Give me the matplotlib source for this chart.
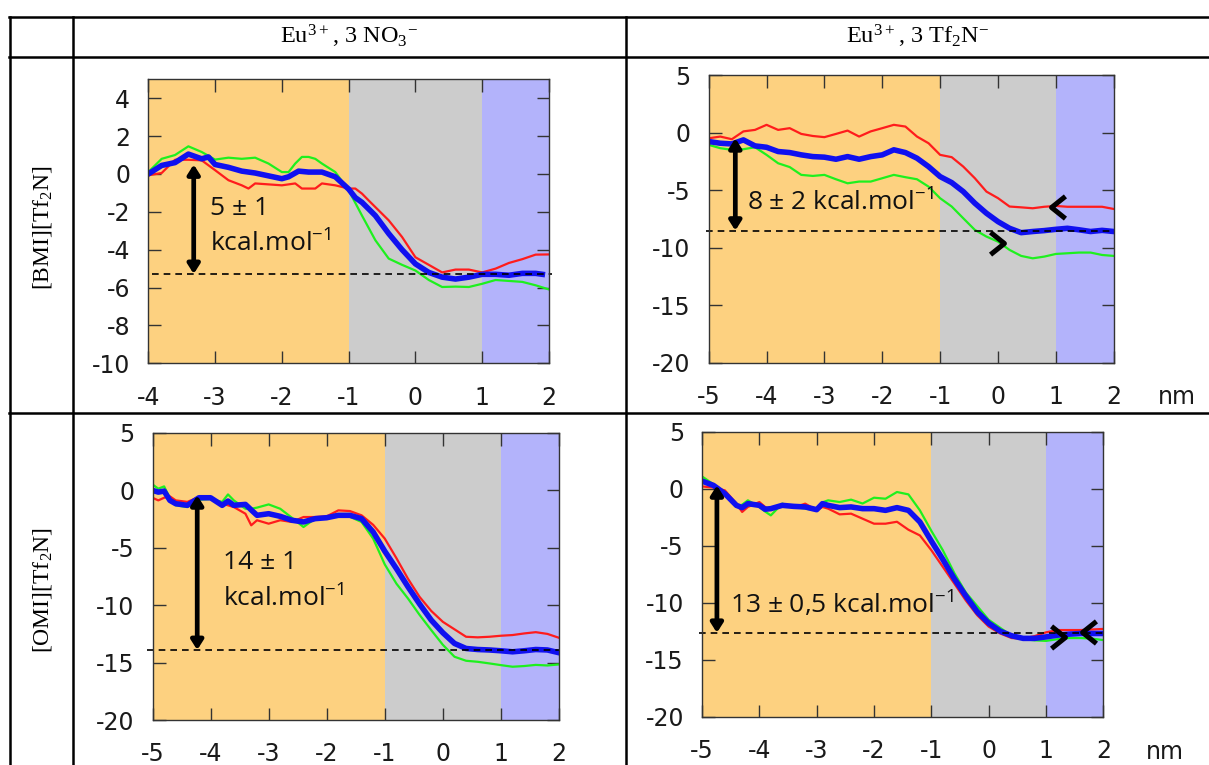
import matplotlib
matplotlib.use("Agg")
import matplotlib.pyplot as plt
from matplotlib.lines import Line2D

# ---- data (free energy, kcal/mol vs z, nm) ----
# [BMI][Tf2N], Eu3+ 3 NO3-
bmi_no3_red_x = [-4.0, -3.8, -3.6, -3.4, -3.2, -3.0, -2.8, -2.6, -2.5, -2.4, -2.2, -2.0, -1.8, -1.7, -1.5,
                 -1.4, -1.2, -1.0, -0.9, -0.8, -0.7, -0.6, -0.4, -0.2, 0.0, 0.2, 0.4, 0.6, 0.8, 1.0,
                 1.2, 1.4, 1.6, 1.8, 2.0]
bmi_no3_red = [-0.07, 0.05, 0.75, 0.75, 0.72, 0.2, -0.33, -0.6, -0.77, -0.5, -0.55, -0.6, -0.5, -0.77, -0.77,
               -0.5, -0.6, -0.77, -0.77, -1.04, -1.4, -1.75, -2.45, -3.33, -4.4, -4.8, -5.2, -5.05, -5.05, -5.2,
               -5.0, -4.7, -4.5, -4.26, -4.25]
bmi_no3_green_x = [-4.0, -3.8, -3.6, -3.4, -3.2, -3.0, -2.8, -2.6, -2.4, -2.2, -2.0, -1.9, -1.8, -1.7, -1.6,
                   -1.5, -1.4, -1.2, -1.0, -0.8, -0.6, -0.4, -0.2, 0.0, 0.2, 0.4, 0.6, 0.8, 1.0, 1.2,
                   1.4, 1.6, 1.8, 2.0]
bmi_no3_green = [0.1, 0.8, 1.0, 1.46, 1.16, 0.76, 0.86, 0.8, 0.86, 0.55, 0.1, 0.1, 0.55, 0.9, 0.9,
                 0.8, 0.55, 0.1, -0.86, -2.2, -3.5, -4.47, -4.8, -5.1, -5.6, -5.97, -5.95, -5.97, -5.8, -5.6,
                 -5.65, -5.7, -5.88, -6.1]
bmi_no3_blue_x = [-4.0, -3.8, -3.6, -3.4, -3.2, -3.1, -3.0, -2.8, -2.6, -2.4, -2.2, -2.0, -1.9, -1.75, -1.6,
                  -1.4, -1.2, -1.0, -0.9, -0.8, -0.6, -0.4, -0.2, 0.0, 0.2, 0.4, 0.6, 0.8, 1.0, 1.2,
                  1.4, 1.6, 1.8, 1.9]
bmi_no3_blue = [0.0, 0.45, 0.6, 1.05, 0.8, 0.9, 0.5, 0.35, 0.15, 0.05, -0.1, -0.25, -0.15, 0.15, 0.1,
                0.1, -0.15, -0.8, -1.25, -1.5, -2.2, -3.15, -4.0, -4.75, -5.2, -5.45, -5.55, -5.45, -5.3, -5.3,
                -5.35, -5.25, -5.25, -5.3]

# [BMI][Tf2N], Eu3+ 3 Tf2N-
bmi_tf2n_x = [-5.0, -4.8, -4.6, -4.4, -4.2, -4.0, -3.8, -3.6, -3.4, -3.2, -3.0, -2.8, -2.6, -2.4, -2.2, -2.0,
              -1.8, -1.6, -1.4, -1.2, -1.0, -0.8, -0.6, -0.4, -0.2, 0.0, 0.2, 0.4, 0.6, 0.8, 1.0, 1.2,
              1.4, 1.6, 1.8, 2.0]
bmi_tf2n_red = [-0.5, -0.35, -0.58, 0.1, 0.23, 0.67, 0.23, 0.38, -0.12, -0.3, -0.4, -0.12, 0.17, -0.35, 0.1, 0.38,
                0.67, 0.52, -0.35, -0.93, -1.94, -2.14, -2.96, -3.97, -5.13, -5.7, -6.43, -6.5, -6.58, -6.45, -6.38, -6.45,
                -6.45, -6.45, -6.45, -6.64]
bmi_tf2n_green = [-1.07, -1.36, -1.5, -1.45, -1.28, -1.94, -2.67, -3.0, -3.68, -3.77, -3.68, -4.06, -4.41, -4.26, -4.26, -3.97,
                  -3.68, -3.88, -4.06, -4.7, -5.71, -6.43, -7.45, -8.46, -9.04, -9.48, -10.2, -10.72, -10.93, -10.78, -10.55, -10.49,
                  -10.43, -10.43, -10.64, -10.72]
bmi_tf2n_blue = [-0.78, -0.93, -0.99, -0.64, -1.16, -1.28, -1.65, -1.74, -1.94, -2.09, -2.14, -2.32, -2.09, -2.32, -2.09, -1.94,
                 -1.5, -1.74, -2.23, -2.96, -3.83, -4.35, -5.13, -6.14, -7.01, -7.74, -8.32, -8.7, -8.6, -8.52, -8.41, -8.32,
                 -8.45, -8.6, -8.5, -8.6]

# [OMI][Tf2N], Eu3+ 3 NO3-
omi_no3_x = [-5.0, -4.9, -4.8, -4.7, -4.6, -4.4, -4.2, -4.0, -3.8, -3.7, -3.6, -3.4, -3.3, -3.2, -3.0, -2.8,
             -2.6, -2.4, -2.2, -2.0, -1.8, -1.6, -1.4, -1.2, -1.0, -0.8, -0.6, -0.4, -0.2, 0.0, 0.2, 0.4,
             0.6, 0.8, 1.0, 1.2, 1.4, 1.6, 1.8, 2.0]
omi_no3_red = [-0.64, -0.87, -0.64, -0.52, -0.87, -1.0, -0.58, -0.58, -1.16, -1.3, -1.45, -2.03, -3.04, -2.6, -2.9, -2.6,
               -2.75, -2.32, -2.32, -2.26, -1.74, -1.8, -2.17, -3.0, -4.2, -5.9, -7.7, -9.28, -10.5, -11.45, -12.1, -12.75,
               -12.8, -12.75, -12.66, -12.6, -12.46, -12.35, -12.5, -12.84]
omi_no3_green = [0.52, 0.15, 0.35, -0.7, -1.3, -1.45, -0.81, -0.75, -1.0, -0.35, -0.87, -1.6, -1.6, -1.5, -1.22, -1.6,
                 -2.38, -3.19, -2.46, -2.32, -2.3, -2.3, -2.75, -4.2, -6.45, -8.12, -9.42, -10.85, -12.17, -13.45, -14.49, -14.84,
                 -14.93, -15.07, -15.22, -15.36, -15.3, -15.2, -15.25, -15.16]
omi_no3_blue = [0.0, -0.15, -0.06, -0.87, -1.16, -1.3, -0.64, -0.64, -1.3, -0.93, -1.3, -1.22, -1.7, -2.17, -2.03, -2.26,
                -2.6, -2.75, -2.46, -2.38, -2.17, -2.17, -2.46, -3.62, -5.3, -6.81, -8.4, -9.9, -11.3, -12.4, -13.33, -13.77,
                -13.86, -13.9, -13.97, -14.06, -13.97, -13.86, -13.9, -14.14]

# [OMI][Tf2N], Eu3+ 3 Tf2N-
omi_tf2n_x = [-5.0, -4.8, -4.6, -4.4, -4.3, -4.2, -4.0, -3.9, -3.8, -3.6, -3.4, -3.2, -3.0, -2.9, -2.8, -2.6,
              -2.4, -2.2, -2.0, -1.8, -1.6, -1.4, -1.2, -1.0, -0.8, -0.6, -0.4, -0.2, 0.0, 0.2, 0.4, 0.6,
              0.8, 1.0, 1.2, 1.4, 1.6, 1.8, 2.0]
omi_tf2n_red = [0.2, 0.1, -0.15, -1.31, -2.04, -1.6, -1.17, -1.6, -1.84, -1.46, -1.66, -1.31, -1.9, -1.6, -1.75, -2.25,
                -2.19, -2.63, -3.07, -3.07, -2.9, -3.6, -4.1, -5.4, -6.86, -8.32, -9.8, -11.1, -12.1, -12.7, -13.1, -13.15,
                -12.93, -12.6, -12.4, -12.4, -12.4, -12.35, -12.3]
omi_tf2n_green = [1.08, 0.38, -0.58, -1.6, -1.4, -1.02, -1.6, -2.0, -2.34, -1.31, -1.6, -1.75, -1.9, -1.2, -1.02, -1.17,
                  -0.96, -1.3, -0.79, -0.88, -0.29, -0.5, -1.9, -3.7, -5.4, -7.4, -9.1, -10.3, -11.5, -12.2, -12.9, -13.2,
                  -13.3, -13.35, -13.2, -13.1, -13.1, -13.15, -13.28]
omi_tf2n_blue = [0.67, 0.29, -0.44, -1.46, -1.66, -1.31, -1.46, -1.8, -1.75, -1.46, -1.55, -1.6, -1.84, -1.31, -1.46, -1.66,
                 -1.6, -1.75, -1.75, -1.9, -1.66, -1.9, -2.92, -4.6, -6.2, -7.9, -9.4, -10.8, -11.8, -12.5, -12.9, -13.13,
                 -13.13, -13.0, -12.85, -12.76, -12.7, -12.7, -12.7]

# barrier annotations: plateau level, arrow x, arrow top, label
levels = [-5.28, -8.52, -13.9, -12.64]
arrow_x = [-3.32, -4.54, -4.23, -4.74]
arrow_top = [0.5, -0.5, -0.43, 0.29]
labels = [["5 \u00b1 1", "kcal.mol$\\mathregular{^{-1}}$"],
          ["8 \u00b1 2 kcal.mol$\\mathregular{^{-1}}$"],
          ["14 \u00b1 1", "kcal.mol$\\mathregular{^{-1}}$"],
          ["13 \u00b1 0,5 kcal.mol$\\mathregular{^{-1}}$"]]
label_x = [-3.08, -4.33, -3.79, -4.52]
label_y = [[-1.83, -3.68], [-6.15], [-6.24, -9.43], [-10.2]]

# chevron marks (x, y, direction)
chev_bmi_tf2n = [(1.04, -6.45, "<"), (-0.01, -9.63, ">")]
chev_omi_tf2n = [(1.2, -12.98, ">"), (1.75, -12.54, "<")]

col_titles = ["Eu$\\mathregular{^{3+}}$, 3 NO$\\mathregular{_3}$$\\mathregular{^{-}}$",
              "Eu$\\mathregular{^{3+}}$, 3 Tf$\\mathregular{_2}$N$\\mathregular{^{-}}$"]
row_titles = ["[BMI][Tf$\\mathregular{_2}$N]", "[OMI][Tf$\\mathregular{_2}$N]"]

W, H = 1209, 765
plt.rcParams["axes.unicode_minus"] = False
plt.rcParams["font.family"] = ["Open Sans", "DejaVu Sans"]

ORANGE = "#fdd180"
GREY = "#cccccc"
LBLUE = "#b3b3fb"
RED = "#ff1c1c"
GREEN = "#1ef01e"
BLUE = "#1010f0"

fig = plt.figure(figsize=(W / 100, H / 100), dpi=100)


def px_box(l, t, r, b):
    return [l / W, 1 - b / H, (r - l) / W, (b - t) / H]


left_chev = [(0.5, 0.8), (-0.5, 0.0), (0.5, -0.8)]
right_chev = [(-0.5, 0.8), (0.5, 0.0), (-0.5, -0.8)]


def panel(box, xlim, ylim, yticks, curves, k, dash_x, chevrons=(), nm=None):
    ax = fig.add_axes(px_box(*box))
    ax.axvspan(xlim[0], -1, color=ORANGE, lw=0, zorder=0)
    ax.axvspan(-1, 1, color=GREY, lw=0, zorder=0)
    ax.axvspan(1, xlim[1], color=LBLUE, lw=0, zorder=0)
    for xs, ys, c, lw in curves:
        ax.plot(xs, ys, color=c, lw=lw, solid_joinstyle="round", zorder=2)
    ax.plot(dash_x, [levels[k], levels[k]], color="black", lw=1.2, ls=(0, (4, 3)),
            clip_on=False, zorder=3)
    ax.annotate("", xy=(arrow_x[k], levels[k]), xytext=(arrow_x[k], arrow_top[k]),
                arrowprops=dict(arrowstyle="<|-|>,head_length=0.55,head_width=0.35",
                                lw=3.4, color="black", shrinkA=0, shrinkB=0), zorder=4)
    for txt, ty in zip(labels[k], label_y[k]):
        ax.text(label_x[k], ty, txt, fontsize=19, color="#111111", ha="left", va="center",
                family=["Open Sans", "DejaVu Sans"], zorder=5)
    for cx, cy, d in chevrons:
        ax.plot([cx], [cy], ls="none", marker=left_chev if d == "<" else right_chev,
                ms=16, mfc="none", mec="black", mew=3.6, zorder=6)
    ax.set_xlim(*xlim)
    ax.set_ylim(*ylim)
    ax.set_xticks(range(int(xlim[0]), int(xlim[1]) + 1))
    ax.set_yticks(yticks)
    ax.tick_params(direction="in", length=9, width=1, color="#333333", top=True, right=True,
                   labelsize=17, labelcolor="#1a1a1a", labelfontfamily="DejaVu Sans")
    ax.tick_params(axis="x", pad=16)
    ax.tick_params(axis="y", pad=13)
    for s in ax.spines.values():
        s.set_color("#333333")
        s.set_linewidth(1.0)
        s.set_zorder(7)
    if nm is not None:
        ax.text(nm[0], nm[1], "nm", transform=ax.transAxes, fontsize=17, ha="center",
                va="center", color="#1a1a1a", family="DejaVu Sans")
    return ax


panel((148.3, 79.3, 549, 363.3), (-4, 2), (-10, 5), range(-10, 5, 2),
      [(bmi_no3_red_x, bmi_no3_red, RED, 1.6),
       (bmi_no3_green_x, bmi_no3_green, GREEN, 1.6),
       (bmi_no3_blue_x, bmi_no3_blue, BLUE, 4.0)], 0, [-3.95, 2.05])
panel((708.7, 75, 1113.7, 362.7), (-5, 2), (-20, 5), range(-20, 6, 5),
      [(bmi_tf2n_x, bmi_tf2n_red, RED, 1.6),
       (bmi_tf2n_x, bmi_tf2n_green, GREEN, 1.6),
       (bmi_tf2n_x, bmi_tf2n_blue, BLUE, 4.0)], 1, [-5.05, 2.0],
      chevrons=chev_bmi_tf2n, nm=(1.155, -0.119))
panel((152.5, 433, 559, 720), (-5, 2), (-20, 5), range(-20, 6, 5),
      [(omi_no3_x, omi_no3_red, RED, 1.6),
       (omi_no3_x, omi_no3_green, GREEN, 1.6),
       (omi_no3_x, omi_no3_blue, BLUE, 4.0)], 2, [-5.09, 2.0])
panel((702, 431.7, 1103.4, 716.7), (-5, 2), (-20, 5), range(-20, 6, 5),
      [(omi_tf2n_x, omi_tf2n_red, RED, 1.6),
       (omi_tf2n_x, omi_tf2n_green, GREEN, 1.6),
       (omi_tf2n_x, omi_tf2n_blue, BLUE, 4.0)], 3, [-5.06, 2.0],
      chevrons=chev_omi_tf2n, nm=(1.153, -0.124))

# table frame
def hline(y, x0=9, x1=W):
    fig.add_artist(Line2D([x0 / W, x1 / W], [1 - y / H, 1 - y / H], color="black", lw=1.8,
                          transform=fig.transFigure))


def vline(x, y0=17, y1=H):
    fig.add_artist(Line2D([x / W, x / W], [1 - y0 / H, 1 - y1 / H], color="black", lw=1.8,
                          transform=fig.transFigure))


for y in (17, 57, 413):
    hline(y)
for x in (10, 73, 626):
    vline(x)

for cx, t in zip((349, 918), col_titles):
    fig.text(cx / W, 1 - 36 / H, t, ha="center", va="center", fontsize=17.5,
             family="Liberation Serif", color="black")
for cy, t in zip((228, 590), row_titles):
    fig.text(42 / W, 1 - cy / H, t, ha="center", va="center", rotation=90, fontsize=17,
             family="Liberation Serif", color="black")

fig.savefig("out.png", dpi=100, facecolor="white")
